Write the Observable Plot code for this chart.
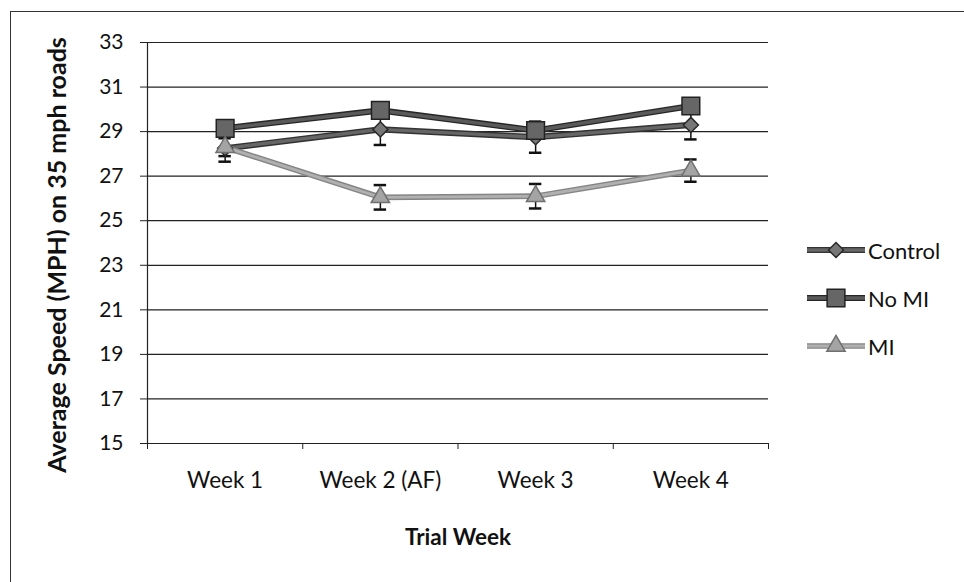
<!DOCTYPE html>
<html><head><meta charset="utf-8">
<script src="https://cdn.jsdelivr.net/npm/d3@7"></script>
<script src="https://cdn.jsdelivr.net/npm/@observablehq/plot@0.6"></script>
<style>
body{margin:0;background:#fff;}
#wrap{position:relative;width:964px;height:582px;overflow:hidden;font-family:Lato,sans-serif;background:#fff;}
#frame{position:absolute;left:10px;top:11px;width:980px;height:600px;border-left:1.5px solid #333;border-top:1.5px solid #333;pointer-events:none;}
#chart{position:absolute;left:0;top:0;}
#legend{position:absolute;left:806px;top:226px;font-size:22px;color:#111;}
#legend .item{display:flex;align-items:center;height:48px;}
#legend svg{margin-right:2px;}
</style></head><body>
<div id="wrap"><div id="chart"></div><div id="frame"></div><div id="legend"></div></div>
<script>
const weeks = ["Week 1", "Week 2 (AF)", "Week 3", "Week 4"];
const seriesNames = ["Control", "No MI", "MI"];
const control = [28.25, 29.1, 28.75, 29.3];
const noMI = [29.15, 29.95, 29.05, 30.15];
const mi = [28.3, 26.05, 26.1, 27.25];
const controlErr = [0.6, 0.7, 0.7, 0.65];
const miErr = [0.4, 0.55, 0.55, 0.5];
const yTicks = [15, 17, 19, 21, 23, 25, 27, 29, 31, 33];

const styles = {
  "Control": {edge: "#333", core: "#666", fill: "#777", mstroke: "#2a2a2a", symbol: "diamond2", r: 6.8, w: 5},
  "No MI":   {edge: "#262626", core: "#5a5a5a", fill: "#666", mstroke: "#222", symbol: "square", r: 10, w: 5},
  "MI":      {edge: "#858585", core: "#b0b0b0", fill: "#a4a4a4", mstroke: "#707070", symbol: "triangle", r: 6.8, w: 4.5}
};

const values = {"Control": control, "No MI": noMI, "MI": mi};
const errs = {"Control": controlErr, "MI": miErr};
const rows = seriesNames.flatMap(s => weeks.map((w, i) => ({series: s, week: w, i, v: values[s][i], e: errs[s] ? errs[s][i] : null})));
const errRows = rows.filter(d => d.e != null);
const cap = 0.04;
const xc = d => d.i + 0.5;

const marks = [
  Plot.ruleY(yTicks, {stroke: "#222", strokeWidth: 1.2}),
  Plot.ruleX([0], {stroke: "#222", strokeWidth: 1.2}),
  Plot.axisY({ticks: yTicks, tickSize: 7, tickPadding: 17, stroke: "#222", label: null, fontSize: 21}),
  Plot.axisX({ticks: [0, 1, 2, 3, 4], tickFormat: () => "", tickSize: 6, stroke: "#222", label: null}),
  Plot.axisX({ticks: weeks.map((w, i) => i + 0.5), tickFormat: t => weeks[Math.round(t - 0.5)], tickSize: 0, tickPadding: 29, label: null, fontSize: 22.5}),
  Plot.text(["Trial Week"], {frameAnchor: "bottom", lineAnchor: "middle", textAnchor: "middle", dy: 94, fontWeight: "bold", fontSize: 22.5}),
  Plot.text(["Average Speed (MPH) on 35 mph roads"], {frameAnchor: "left", textAnchor: "middle", lineAnchor: "middle", rotate: -90, dx: -90, dy: 12, fontWeight: "bold", fontSize: 25}),
  // error bars
  Plot.ruleX(errRows, {x: xc, y1: d => d.v - d.e, y2: d => d.v + d.e, stroke: "#111", strokeWidth: 1.5}),
  Plot.ruleY(errRows, {x1: d => xc(d) - cap, x2: d => xc(d) + cap, y: d => d.v - d.e, stroke: "#111", strokeWidth: 2.5}),
  Plot.ruleY(errRows, {x1: d => xc(d) - cap, x2: d => xc(d) + cap, y: d => d.v + d.e, stroke: "#111", strokeWidth: 2.5})
];
for (const s of seriesNames) {
  const st = styles[s];
  const data = rows.filter(d => d.series === s);
  marks.push(Plot.line(data, {x: xc, y: "v", stroke: st.edge, strokeWidth: st.w + 1.2}));
  marks.push(Plot.line(data, {x: xc, y: "v", stroke: st.core, strokeWidth: st.w - 1.6}));
}
for (const s of seriesNames) {
  const st = styles[s];
  const data = rows.filter(d => d.series === s);
  marks.push(Plot.dot(data, {x: xc, y: "v", symbol: st.symbol, r: st.r, fill: st.fill, stroke: st.mstroke, strokeWidth: 1.5}));
}

const chart = Plot.plot({
  width: 964, height: 582,
  marginLeft: 147, marginRight: 196, marginTop: 42, marginBottom: 139,
  x: {domain: [0, 4], axis: null, label: null},
  y: {domain: [15, 33], axis: null, label: null},
  style: {fontFamily: "Lato, sans-serif", fontSize: "21px", color: "#111", background: "transparent"},
  marks
});
document.getElementById("chart").appendChild(chart);

// legend
const legend = document.getElementById("legend");
for (const s of seriesNames) {
  const st = styles[s];
  const sym = {square: d3.symbolSquare, diamond2: d3.symbolDiamond2, triangle: d3.symbolTriangle}[st.symbol];
  const path = d3.symbol(sym, st.r * st.r * Math.PI)();
  const item = document.createElement("div");
  item.className = "item";
  item.innerHTML = `<svg width="60" height="24"><line x1="1" x2="59" y1="12" y2="12" stroke="${st.edge}" stroke-width="${st.w + 1.2}"/><line x1="1" x2="59" y1="12" y2="12" stroke="${st.core}" stroke-width="${st.w - 1.6}"/><path transform="translate(30,12)" d="${path}" fill="${st.fill}" stroke="${st.mstroke}" stroke-width="1.5"/></svg><span>${s}</span>`;
  legend.appendChild(item);
}
</script>
</body></html>
